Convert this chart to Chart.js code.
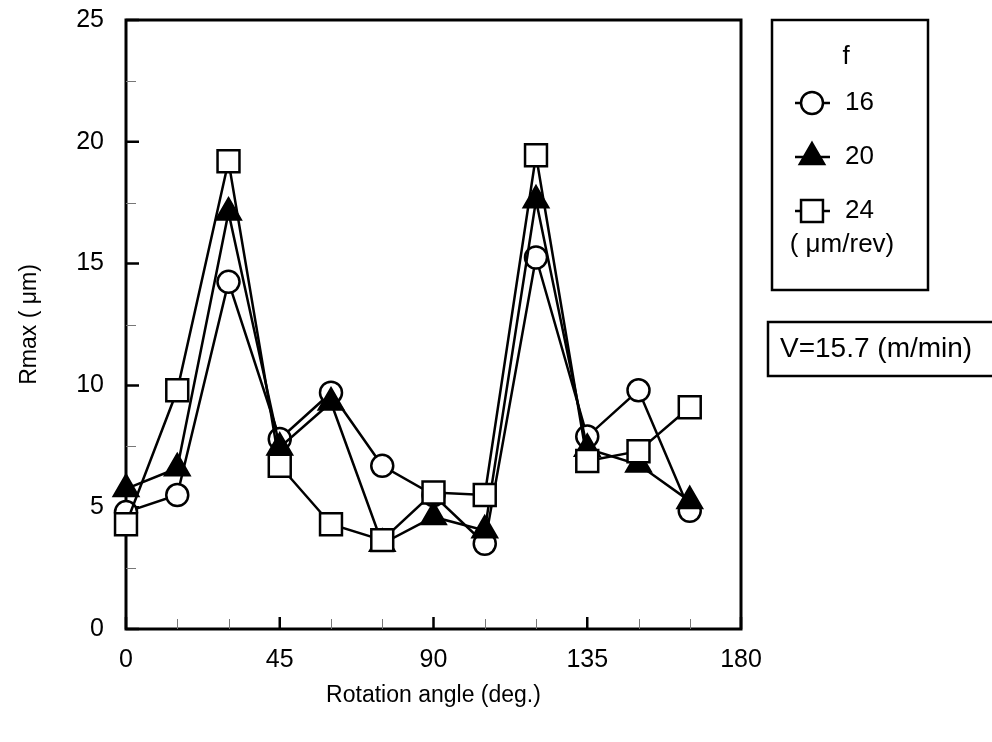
<!DOCTYPE html>
<html>
<head>
<meta charset="utf-8">
<script src="https://cdn.jsdelivr.net/npm/chart.js@4.4.0/dist/chart.umd.min.js"></script>
<style>
  html, body { margin: 0; padding: 0; background: #fff; }
</style>
</head>
<body>
<canvas id="myChart" width="992" height="742"></canvas>
<script>
// Data
const angles = [0, 15, 30, 45, 60, 75, 90, 105, 120, 135, 150, 165];
const rmaxF16 = [4.8, 5.5, 14.25, 7.8, 9.7, 6.7, 5.5, 3.5, 15.25, 7.9, 9.8, 4.85];
const rmaxF20 = [5.75, 6.6, 17.1, 7.45, 9.3, 3.5, 4.6, 4.05, 17.6, 7.4, 6.75, 5.25];
const rmaxF24 = [4.3, 9.8, 19.2, 6.7, 4.3, 3.65, 5.6, 5.5, 19.45, 6.9, 7.3, 9.1];
const feedLabels = ['16', '20', '24'];
const xMajorTicks = [0, 45, 90, 135, 180];
const xMinorTicks = [15, 30, 60, 75, 105, 120, 150, 165];
const yMajorTicks = [0, 5, 10, 15, 20, 25];
const yMinorTicks = [2.5, 7.5, 12.5, 17.5, 22.5];

const FONT = "'Liberation Sans', Arial, sans-serif";
Chart.defaults.font.family = FONT;
Chart.defaults.color = '#000';

const toPoints = (ys) => angles.map((a, i) => ({x: a, y: ys[i]}));

const markers = [
    {style: 'circle',   radius: 11,   fill: '#fff'},
    {style: 'triangle', radius: 14,   fill: '#000'},
    {style: 'rect',     radius: 15.5, fill: '#fff'}
];

// frame and inward ticks, drawn under the data
const framePlugin = {
    id: 'frame',
    beforeDatasetsDraw(chart) {
        const {ctx, chartArea: a, scales: {x, y}} = chart;
        ctx.save();
        ctx.strokeStyle = '#000';
        ctx.lineWidth = 3;
        ctx.strokeRect(a.left, a.top, a.right - a.left, a.bottom - a.top);

        ctx.lineWidth = 2.5;
        ctx.beginPath();
        xMajorTicks.forEach(v => {
            const px = x.getPixelForValue(v);
            ctx.moveTo(px, a.bottom); ctx.lineTo(px, a.bottom - 12);
        });
        yMajorTicks.forEach(v => {
            const py = y.getPixelForValue(v);
            ctx.moveTo(a.left, py); ctx.lineTo(a.left + 13, py);
        });
        ctx.stroke();

        ctx.strokeStyle = '#777';
        ctx.lineWidth = 1;
        ctx.beginPath();
        xMinorTicks.forEach(v => {
            const px = Math.round(x.getPixelForValue(v)) + 0.5;
            ctx.moveTo(px, a.bottom); ctx.lineTo(px, a.bottom - 10);
        });
        yMinorTicks.forEach(v => {
            const py = Math.round(y.getPixelForValue(v)) + 0.5;
            ctx.moveTo(a.left, py); ctx.lineTo(a.left + 10, py);
        });
        ctx.stroke();
        ctx.restore();
    }
};

// legend box and the condition box on the right
const boxesPlugin = {
    id: 'boxes',
    afterDraw(chart) {
        const ctx = chart.ctx;
        ctx.save();
        ctx.strokeStyle = '#000';
        ctx.lineWidth = 2.5;
        ctx.strokeRect(772, 20, 156, 270);
        ctx.strokeRect(768, 322, 240, 54);

        ctx.fillStyle = '#000';
        ctx.font = '26px ' + FONT;
        ctx.textBaseline = 'middle';
        ctx.textAlign = 'center';
        ctx.fillText('f', 846, 57);
        ctx.fillText('( \u03BCm/rev)', 842, 245);

        const rows = [103, 157, 211];
        rows.forEach((ry, i) => {
            ctx.lineWidth = 2.5;
            ctx.strokeStyle = '#000';
            ctx.beginPath();
            ctx.moveTo(795, ry); ctx.lineTo(830, ry);
            ctx.stroke();
            ctx.fillStyle = markers[i].fill;
            Chart.helpers.drawPoint(ctx, {
                pointStyle: markers[i].style,
                radius: markers[i].radius,
                rotation: 0,
                borderWidth: 2.5
            }, 812, ry);
            ctx.fillStyle = '#000';
            ctx.textAlign = 'left';
            ctx.fillText(feedLabels[i], 845, ry);
        });

        ctx.font = '28px ' + FONT;
        ctx.textAlign = 'left';
        ctx.fillText('V=15.7 (m/min)', 780, 349);
        ctx.restore();
    }
};

const series = [rmaxF16, rmaxF20, rmaxF24];
const datasets = series.map((ys, i) => ({
    label: feedLabels[i],
    data: toPoints(ys),
    borderColor: '#000',
    borderWidth: 2.5,
    pointStyle: markers[i].style,
    pointRadius: markers[i].radius,
    pointHoverRadius: markers[i].radius,
    pointBackgroundColor: markers[i].fill,
    pointBorderColor: '#000',
    pointBorderWidth: 2.5,
    tension: 0,
    fill: false,
    clip: false,
    order: 3 - i
}));

const ctx = document.getElementById('myChart');

new Chart(ctx, {
    type: 'line',
    data: { datasets },
    plugins: [framePlugin, boxesPlugin],
    options: {
        responsive: false,
        animation: false,
        devicePixelRatio: 1,
        layout: { padding: { left: 0, top: 20, right: 251, bottom: 0 } },
        plugins: { legend: { display: false }, tooltip: { enabled: false } },
        scales: {
            x: {
                type: 'linear',
                min: 0, max: 180,
                afterFit: (s) => { s.height = 113; s.paddingLeft = 0; s.paddingRight = 0; },
                grid: { display: false, drawTicks: false },
                border: { display: false },
                ticks: { stepSize: 45, padding: 16, font: { size: 25 }, maxRotation: 0 },
                title: {
                    display: true,
                    text: 'Rotation angle (deg.)',
                    font: { size: 23 },
                    padding: { top: 0, bottom: 33 }
                }
            },
            y: {
                min: 0, max: 25,
                afterFit: (s) => { s.width = 126; s.paddingTop = 0; s.paddingBottom = 0; },
                grid: { display: false, drawTicks: false },
                border: { display: false },
                ticks: { stepSize: 5, padding: 22, font: { size: 25 } },
                title: {
                    display: true,
                    text: 'Rmax ( \u03BCm)',
                    font: { size: 23 },
                    padding: { top: 16, bottom: 0 }
                }
            }
        }
    }
});
</script>
</body>
</html>
